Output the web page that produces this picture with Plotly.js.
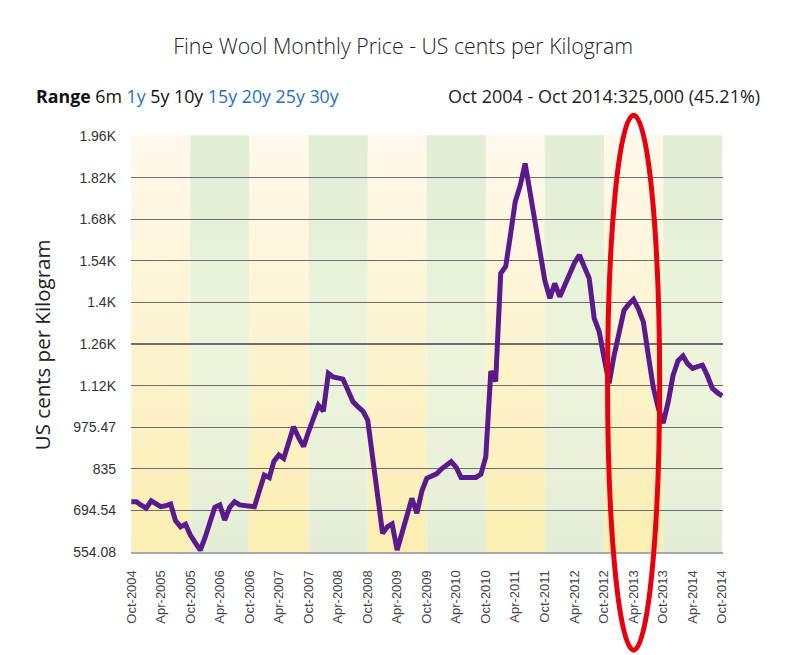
<!DOCTYPE html>
<html>
<head>
<meta charset="utf-8">
<script src="https://cdn.plot.ly/plotly-3.0.1.min.js"></script>
<style>html,body{margin:0;padding:0;background:#fff;}#chart{width:800px;height:655px;}</style>
</head>
<body>
<div id="chart"></div>
<script>
// ---- Data ----
const startYear = 2004, startMonth = 10; // Oct 2004, monthly to Oct 2014
const prices = [
  724, 724, 712, 702, 727, 715, 707, 710, 716, 660, 639, 648,
  611, 585, 560, 605, 655, 705, 713, 662, 705, 724, 713, 712,
  710, 707, 760, 814, 805, 860, 882, 870, 925, 977, 940, 910,
  960, 1010, 1050, 1030, 1157, 1145, 1140, 1138, 1100, 1062, 1045, 1030,
  1000, 880, 740, 617, 640, 649, 561, 620, 680, 735, 685, 760,
  803, 810, 818, 835, 850, 859, 840, 806, 806, 806, 806, 817,
  876, 1165, 1130, 1495, 1518, 1620, 1737, 1790, 1866, 1770, 1660, 1560,
  1470, 1411, 1461, 1416, 1455, 1495, 1530, 1557, 1515, 1478, 1343, 1298,
  1210, 1124, 1215, 1300, 1370, 1390, 1407, 1375, 1330, 1220, 1110, 1040,
  989, 1060, 1150, 1200, 1216, 1190, 1174, 1180, 1185, 1150, 1107, 1092,
  1081
];
const xTickVals = ['2004-10-01','2005-04-01','2005-10-01','2006-04-01','2006-10-01','2007-04-01','2007-10-01',
  '2008-04-01','2008-10-01','2009-04-01','2009-10-01','2010-04-01','2010-10-01','2011-04-01','2011-10-01',
  '2012-04-01','2012-10-01','2013-04-01','2013-10-01','2014-04-01','2014-10-01'];
const xTickText = ['Oct-2004','Apr-2005','Oct-2005','Apr-2006','Oct-2006','Apr-2007','Oct-2007',
  'Apr-2008','Oct-2008','Apr-2009','Oct-2009','Apr-2010','Oct-2010','Apr-2011','Oct-2011',
  'Apr-2012','Oct-2012','Apr-2013','Oct-2013','Apr-2014','Oct-2014'];
const yTickVals = [554.08, 694.54, 835.0, 975.47, 1115.94, 1256.4, 1396.87, 1537.33, 1677.8, 1818.26, 1958.73];
const yTickText = ['554.08','694.54','835','975.47','1.12K','1.26K','1.4K','1.54K','1.68K','1.82K','1.96K'];
const bandStarts = ['2004-10-01','2005-10-01','2006-10-01','2007-10-01','2008-10-01',
  '2009-10-01','2010-10-01','2011-10-01','2012-10-01','2013-10-01','2014-10-01'];

// month dates
const dates = prices.map((_, i) => {
  const d = new Date(Date.UTC(startYear, startMonth - 1 + i, 1));
  return d.getUTCFullYear() + '-' + String(d.getUTCMonth() + 1).padStart(2, '0') + '-01';
});

// ---- background bands (simulated vertical gradient) ----
function hex2rgb(h){h=h.replace('#','');return [0,2,4].map(i=>parseInt(h.substr(i,2),16));}
function lerpStops(stops, t){
  for (let i=0;i<stops.length-1;i++){
    const [t0,c0]=stops[i],[t1,c1]=stops[i+1];
    if (t>=t0 && t<=t1){
      const f=(t-t0)/(t1-t0), a=hex2rgb(c0), b=hex2rgb(c1);
      return 'rgb('+a.map((v,k)=>Math.round(v+(b[k]-v)*f)).join(',')+')';
    }
  }
  return stops[stops.length-1][1];
}
const yellowStops = [[0,'#fbeeb2'],[0.45,'#fcf3cc'],[1,'#fef9ec']];
const greenStops  = [[0,'#e3edd6'],[0.45,'#eef4dc'],[1,'#e1edd5']];
const shapes = [];
const N = 24;
for (let b=0;b<bandStarts.length-1;b++){
  const stops = (b%2===0)?yellowStops:greenStops;
  for (let s=0;s<N;s++){
    const y0=s/N, y1=(s+1)/N;
    shapes.push({type:'rect',xref:'x',yref:'paper',x0:bandStarts[b],x1:bandStarts[b+1],
      y0:y0,y1:y1+0.002,fillcolor:lerpStops(stops,(y0+y1)/2),line:{width:0},layer:'below'});
  }
}
// red highlight ellipse (annotation)
shapes.push({type:'circle',xref:'paper',yref:'paper',x0:0.805,x1:0.893,y0:-0.236,y1:1.05,
  line:{color:'#e8000f',width:5},fillcolor:'rgba(0,0,0,0)',layer:'above'});

const trace = {
  x: dates, y: prices, type:'scatter', mode:'lines',
  line:{color:'#5a1a8c',width:5}, hoverinfo:'x+y'
};

const layout = {
  width:800, height:655,
  margin:{l:131,r:77,t:136,b:103},
  paper_bgcolor:'#ffffff', plot_bgcolor:'rgba(0,0,0,0)',
  showlegend:false,
  title:{text:'Fine Wool Monthly Price - US cents per Kilogram',
    font:{family:'Open Sans, Noto Sans, sans-serif',size:21.3,color:'#222',weight:300},
    x:0.504,xanchor:'center',y:0.929,yanchor:'middle',yref:'container'},
  xaxis:{type:'date',range:['2004-09-29','2014-10-06'],tickmode:'array',tickvals:xTickVals,ticktext:xTickText,
    tickangle:-90,tickfont:{family:'Liberation Sans, Arial, sans-serif',size:13,color:'#444'},
    showgrid:false,zeroline:false,showline:true,linecolor:'#a9a9a9',linewidth:2,ticks:'',ticklabelstandoff:11,fixedrange:true},
  yaxis:{range:[554.08,1958.73],tickmode:'array',tickvals:yTickVals,ticktext:yTickText,
    tickfont:{family:'Liberation Sans, Arial, sans-serif',size:14,color:'#333'},
    showgrid:true,gridcolor:'#6e6e6e',gridwidth:1.3,zeroline:false,showline:false,ticks:'',ticklabelstandoff:14,fixedrange:true},
  shapes:shapes,
  annotations:[
    {xref:'paper',yref:'paper',x:-0.164,y:1.096,xanchor:'left',yanchor:'middle',showarrow:false,
     text:'<b>Range</b> 6m <span style="color:#1f6fc5">1y</span> 5y 10y <span style="color:#1f6fc5">15y 20y 25y 30y</span>',
     font:{family:'Open Sans, Noto Sans, sans-serif',size:17.8,color:'#111'}},
    {xref:'paper',yref:'paper',x:1.066,y:1.096,xanchor:'right',yanchor:'middle',showarrow:false,
     text:'Oct 2004 - Oct 2014:325,000 (45.21%)',
     font:{family:'Open Sans, Noto Sans, sans-serif',size:18,color:'#222'}},
    {xref:'paper',yref:'paper',x:-0.150,y:0.4976,xanchor:'center',yanchor:'middle',showarrow:false,textangle:-90,
     text:'US cents per Kilogram',
     font:{family:'Open Sans, Noto Sans, sans-serif',size:20.5,color:'#222'}}
  ]
};

Plotly.newPlot('chart',[trace],layout,{displayModeBar:false,staticPlot:true});
</script>
</body>
</html>
